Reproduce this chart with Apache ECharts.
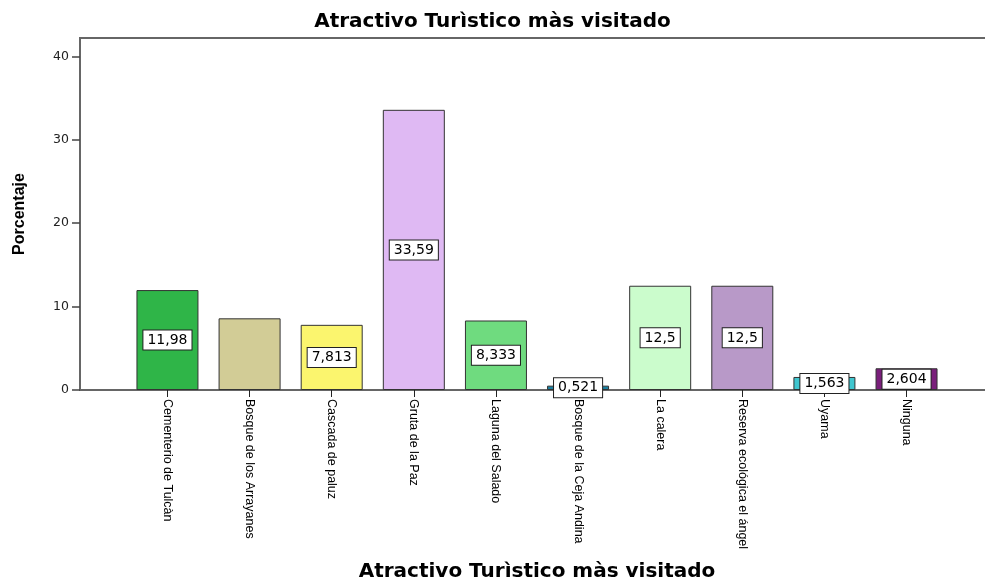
<!DOCTYPE html>
<html>
<head>
<meta charset="utf-8">
<script src="https://cdn.jsdelivr.net/npm/echarts@6/dist/echarts.min.js"></script>
<style>
  html, body { margin: 0; padding: 0; background: #fff; }
  #chart { width: 985px; height: 585px; }
</style>
</head>
<body>
<div id="chart"></div>
<script>
// categorías y porcentajes
const categorias = [
  'Cementerio de Tulcàn', 'Bosque de los Arrayanes', 'Cascada de paluz',
  'Gruta de la Paz', 'Laguna del Salado', 'Bosque de la Ceja Andina',
  'La calera', 'Reserva ecológica el ángel', 'Uyama', 'Ninguna'
];
const porcentajes = [11.98, 8.594, 7.813, 33.59, 8.333, 0.521, 12.5, 12.5, 1.563, 2.604];
const colores = [
  '#2fb548', '#d2cc96', '#fbf56e', '#dfb9f3', '#6fdb7f',
  '#1b80a0', '#cbfccc', '#b899c8', '#40c6cf', '#7a1f7b'
];
// la barra de Arrayanes no lleva etiqueta en el original
const conEtiqueta = [true, false, true, true, true, true, true, true, true, true];
const ticksY = [0, 10, 20, 30, 40];

const chart = echarts.init(document.getElementById('chart'));

const datos = porcentajes.map((v, i) => ({
  value: v,
  itemStyle: { color: colores[i] },
  label: { show: conEtiqueta[i] }
}));

const option = {
  animation: false,
  title: {
    text: 'Atractivo Turìstico màs visitado',
    left: 'center',
    top: 7,
    textStyle: { fontFamily: 'DejaVu Sans', fontWeight: 'bold', fontSize: 20, color: '#000' }
  },
  grid: [
    { left: 80, right: -10, top: 38, bottom: 195, outerBoundsMode: 'none',
      show: true, borderColor: '#666', borderWidth: 2 },
    { left: 126.4, right: 37.4, top: 38, bottom: 195, outerBoundsMode: 'none' }
  ],
  xAxis: [
    { gridIndex: 0, type: 'value', min: 0, max: 1, show: false },
    {
      gridIndex: 1,
      type: 'category',
      data: categorias,
      axisLine: { show: false },
      axisTick: { show: true, alignWithLabel: true, length: 7, lineStyle: { color: '#222' } },
      axisLabel: {
        rotate: -90,
        margin: 9,
        fontFamily: 'Liberation Sans',
        fontSize: 12.5,
        color: '#000'
      },
      name: 'Atractivo Turìstico màs visitado',
      nameLocation: 'middle',
      nameGap: 172,
      nameTextStyle: { fontFamily: 'DejaVu Sans', fontWeight: 'bold', fontSize: 20, color: '#000' }
    }
  ],
  yAxis: [
    {
      gridIndex: 0,
      type: 'value',
      min: 0,
      max: 42.2,
      interval: 10,
      splitLine: { show: false },
      axisLine: { show: true, lineStyle: { color: '#666', width: 2 } },
      axisTick: { show: true, length: 8, customValues: ticksY, lineStyle: { color: '#444', width: 1.5 } },
      axisLabel: {
        customValues: ticksY,
        margin: 11,
        fontFamily: 'DejaVu Sans',
        fontSize: 12.5,
        color: '#222'
      },
      name: 'Porcentaje',
      nameLocation: 'middle',
      nameGap: 52,
      nameTextStyle: { fontFamily: 'Liberation Sans', fontWeight: 'bold', fontSize: 16, color: '#000' }
    },
    { gridIndex: 1, type: 'value', min: 0, max: 42.2, show: false }
  ],
  series: [{
    type: 'bar',
    xAxisIndex: 1,
    yAxisIndex: 1,
    data: datos,
    barCategoryGap: '24.5%',
    itemStyle: { borderColor: '#333', borderWidth: 1 },
    label: {
      position: 'inside',
      formatter: p => String(p.value).replace('.', ','),
      fontFamily: 'DejaVu Sans',
      fontSize: 14,
      color: '#000',
      backgroundColor: '#fff',
      borderColor: '#222',
      borderWidth: 1,
      padding: [3, 4, 2, 4]
    }
  }]
};

chart.setOption(option);
</script>
</body>
</html>
